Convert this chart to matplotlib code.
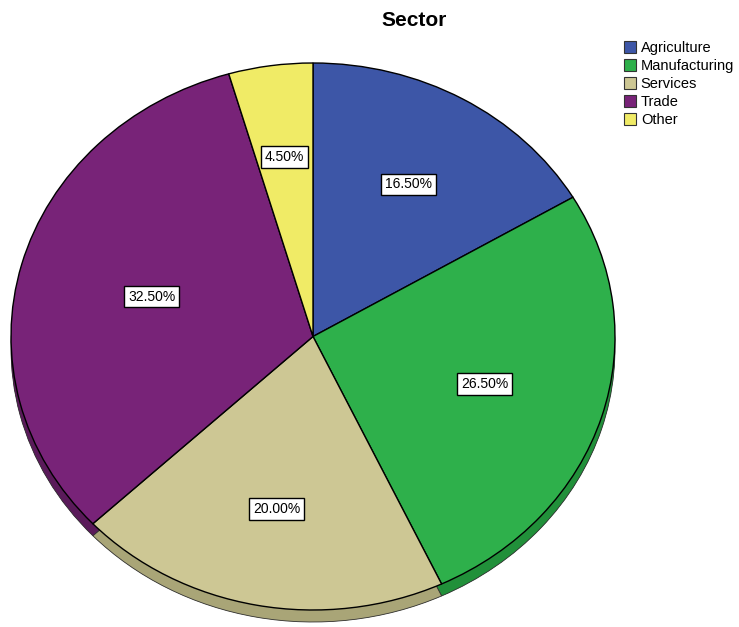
import matplotlib
matplotlib.use("Agg")
import matplotlib.pyplot as plt
from matplotlib.patches import Patch
import numpy as np

plt.rcParams['font.family'] = ['Liberation Sans', 'DejaVu Sans']

# sector shares (percent)
sectors = ['Agriculture', 'Manufacturing', 'Services', 'Trade', 'Other']
shares = [16.5, 26.5, 20.0, 32.5, 4.5]

top_colors = ['#3d56a7', '#2eb04b', '#cdc794', '#782378', '#f0eb66']
side_colors = ['#2b3d7a', '#21903a', '#a9a577', '#5a1a5a', '#bdb84e']
# radial position of each percent label (fraction of radius)
label_r = [0.64, 0.595, 0.643, 0.553, 0.664]

W, H = 739, 627
fig = plt.figure(figsize=(W / 100, H / 100), dpi=100)

# pie face: x 11..615 px, y 63..610 px, plus 12 px of depth underneath
left, right, top, face_bottom, depth = 11, 615, 63, 610, 12
ry_px = (face_bottom - top) / 2
d = depth / ry_px
ax = fig.add_axes([left / W, (H - face_bottom - depth) / H,
                   (right - left) / W, (face_bottom + depth - top) / H])

# side of the disc: stack of darker pies shifted down
steps = 6
for k in range(steps, 0, -1):
    ax.pie(shares, colors=side_colors, startangle=90, counterclock=False,
           center=(0, -d * k / steps), radius=1, frame=True,
           wedgeprops=dict(edgecolor='none', linewidth=0))
ax.pie(shares, colors=side_colors, startangle=90, counterclock=False,
       center=(0, -d), radius=1, frame=True,
       wedgeprops=dict(edgecolor='#333333', linewidth=0.6))

# top face
wedges, _ = ax.pie(shares, colors=top_colors, startangle=90, counterclock=False,
                   radius=1, frame=True,
                   wedgeprops=dict(edgecolor='black', linewidth=1.0))

# stretch to the elliptical footprint
ax.set_aspect('auto')
ax.set_xlim(-1, 1)
ax.set_ylim(-1 - d, 1)
ax.axis('off')

start = 90.0
for val, r in zip(shares, label_r):
    span = val / sum(shares) * 360
    mid = np.deg2rad(start - span / 2)
    start -= span
    ax.text(r * np.cos(mid), r * np.sin(mid), f'{val:.2f}%',
            ha='center', va='center', fontsize=10,
            bbox=dict(boxstyle='square,pad=0.28', facecolor='white',
                      edgecolor='black', linewidth=1.0))

fig.text(414 / W, 1 - 20 / H, 'Sector', ha='center', va='center',
         fontsize=15, fontweight='bold')

handles = [Patch(facecolor=c, edgecolor='#333333', linewidth=0.8) for c in top_colors]
fig.legend(handles, sectors, loc='upper left',
           bbox_to_anchor=(624 / W, 1 - 41 / H), frameon=False,
           fontsize=10.5, handlelength=0.85, handleheight=0.85,
           handletextpad=0.3, labelspacing=0.27, borderpad=0, borderaxespad=0)

fig.savefig('out.png', dpi=100, facecolor='white')
